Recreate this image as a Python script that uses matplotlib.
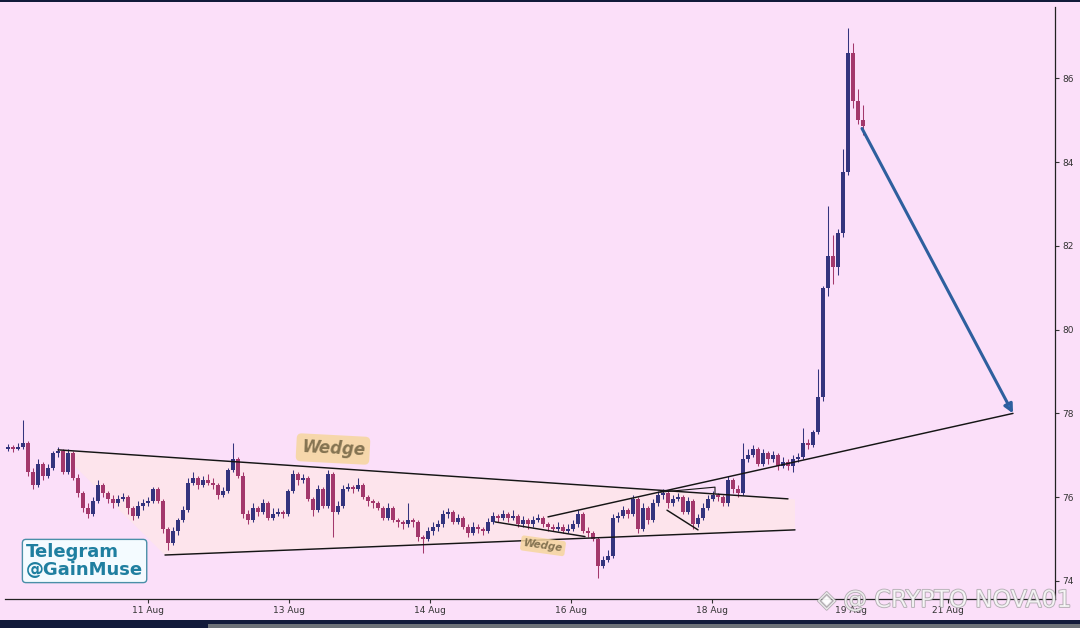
import matplotlib
matplotlib.use("Agg")
import matplotlib.pyplot as plt
import matplotlib.patheffects as pe
from matplotlib.patches import Polygon, Rectangle
import numpy as np

# ---------------- data ----------------
closes = [77.2, 77.15, 77.2, 77.3, 76.6, 76.3, 76.8, 76.5, 76.7, 77.05,
          77.1, 76.6, 77.05, 76.45, 76.1, 75.75, 75.6, 75.9, 76.3, 76.1,
          75.95, 75.85, 75.95, 76.0, 75.75, 75.55, 75.8, 75.85, 75.9, 76.2,
          75.9, 75.25, 74.9, 75.2, 75.45, 75.7, 76.35, 76.45, 76.3, 76.4,
          76.35, 76.3, 76.05, 76.15, 76.65, 76.9, 76.5, 75.6, 75.45, 75.75,
          75.65, 75.85, 75.5, 75.6, 75.65, 75.6, 76.15, 76.55, 76.4, 76.45,
          75.95, 75.7, 76.2, 75.8, 76.55, 75.65, 75.8, 76.2, 76.25, 76.2,
          76.3, 76.0, 75.9, 75.85, 75.75, 75.5, 75.75, 75.45, 75.4, 75.35,
          75.45, 75.4, 75.05, 75.0, 75.2, 75.3, 75.35, 75.6, 75.65, 75.4,
          75.5, 75.3, 75.15, 75.3, 75.25, 75.2, 75.4, 75.55, 75.5, 75.6,
          75.5, 75.55, 75.35, 75.45, 75.35, 75.45, 75.5, 75.35, 75.3, 75.25,
          75.3, 75.2, 75.25, 75.35, 75.6, 75.2, 75.15, 75.0, 74.35, 74.5,
          74.6, 75.5, 75.55, 75.7, 75.6, 75.95, 75.25, 75.75, 75.45, 75.85,
          76.05, 76.1, 75.85, 75.95, 76.0, 75.65, 75.9, 75.35, 75.5, 75.75,
          75.95, 76.05, 76.0, 75.85, 76.4, 76.2, 76.1, 76.9, 77.0, 77.15,
          76.8, 77.05, 76.9, 77.0, 76.75, 76.85, 76.75, 76.9, 76.95, 77.3,
          77.25, 77.55, 78.4, 81.0, 81.75, 81.5, 82.3, 83.75, 86.6, 85.45,
          85.0, 84.85]
opens = [77.15] + closes[:-1]
highs = [77.28, 77.25, 77.3, 77.85, 77.35, 76.7, 76.9, 76.85, 76.8, 77.1,
         77.2, 77.15, 77.15, 77.1, 76.55, 76.15, 75.85, 76.0, 76.4, 76.35,
         76.15, 76.05, 76.05, 76.1, 76.05, 75.8, 75.9, 75.95, 76.0, 76.25,
         76.25, 75.95, 75.3, 75.3, 75.5, 75.8, 76.45, 76.6, 76.5, 76.5,
         76.55, 76.45, 76.35, 76.25, 76.7, 77.3, 76.95, 76.6, 75.7, 75.85,
         75.8, 75.95, 75.9, 75.75, 75.75, 75.7, 76.2, 76.65, 76.6, 76.55,
         76.5, 76.0, 76.3, 76.25, 76.65, 76.6, 75.9, 76.3, 76.35, 76.3,
         76.45, 76.35, 76.05, 75.95, 75.9, 75.8, 75.85, 75.8, 75.5, 75.45,
         75.85, 75.5, 75.45, 75.1, 75.3, 75.4, 75.45, 75.7, 75.75, 75.7,
         75.6, 75.55, 75.35, 75.4, 75.35, 75.3, 75.5, 75.65, 75.6, 75.7,
         75.65, 75.7, 75.6, 75.55, 75.5, 75.55, 75.6, 75.55, 75.4, 75.35,
         75.4, 75.35, 75.35, 75.45, 75.7, 75.65, 75.3, 75.2, 75.05, 74.6,
         74.75, 75.6, 75.65, 75.8, 75.75, 76.05, 76.0, 75.85, 75.8, 75.95,
         76.15, 76.2, 76.15, 76.05, 76.1, 76.05, 76.0, 75.95, 75.6, 75.85,
         76.05, 76.15, 76.1, 76.05, 76.5, 76.45, 76.3, 77.3, 77.15, 77.25,
         77.2, 77.15, 77.1, 77.1, 77.05, 76.95, 76.9, 77.0, 77.05, 77.65,
         77.4, 77.6, 79.05, 81.05, 82.95, 82.25, 82.4, 84.3, 87.2, 86.85,
         85.75, 85.35]
lows = [77.1, 77.08, 77.12, 77.15, 76.5, 76.2, 76.25, 76.4, 76.45, 76.65,
        76.95, 76.55, 76.55, 76.4, 76.0, 75.65, 75.5, 75.55, 75.85, 76.0,
        75.85, 75.75, 75.8, 75.9, 75.6, 75.45, 75.5, 75.7, 75.8, 75.85,
        75.85, 75.15, 74.75, 74.85, 75.1, 75.4, 75.65, 76.3, 76.2, 76.25,
        76.3, 76.2, 75.95, 76.0, 76.1, 76.6, 76.45, 75.5, 75.35, 75.4,
        75.55, 75.6, 75.45, 75.45, 75.55, 75.5, 75.55, 76.1, 76.3, 76.35,
        75.9, 75.55, 75.65, 75.75, 75.75, 75.05, 75.6, 75.75, 76.15, 76.1,
        76.15, 75.95, 75.8, 75.75, 75.7, 75.45, 75.45, 75.4, 75.3, 75.25,
        75.3, 75.3, 74.95, 74.67, 74.95, 75.1, 75.2, 75.3, 75.5, 75.35,
        75.35, 75.25, 75.05, 75.1, 75.15, 75.1, 75.15, 75.35, 75.4, 75.45,
        75.4, 75.45, 75.3, 75.3, 75.25, 75.3, 75.4, 75.3, 75.2, 75.2,
        75.2, 75.15, 75.15, 75.2, 75.3, 75.15, 75.05, 74.95, 74.07, 74.3,
        74.45, 74.55, 75.4, 75.5, 75.5, 75.55, 75.15, 75.2, 75.35, 75.4,
        75.8, 75.95, 75.75, 75.8, 75.9, 75.6, 75.6, 75.25, 75.3, 75.45,
        75.7, 75.9, 75.9, 75.8, 75.8, 76.1, 76.0, 76.05, 76.85, 76.95,
        76.75, 76.75, 76.8, 76.85, 76.65, 76.7, 76.65, 76.6, 76.85, 76.9,
        77.15, 77.2, 77.5, 78.3, 80.8, 81.1, 81.3, 82.2, 83.7, 85.3,
        84.9, 84.65]

x_tick_pos = [28, 56.2, 84.4, 112.6, 140.8, 168.6, 188]
x_tick_labels = ["11 Aug", "13 Aug", "14 Aug", "16 Aug", "18 Aug", "19 Aug", "21 Aug"]
y_ticks = [74, 76, 78, 80, 82, 84, 86]

# trend lines (x in candle index, y in price)
wedge_upper = [(10, 77.13), (156, 75.96)]
wedge_lower = [(31.4, 74.62), (157.4, 75.22)]
rising_line = [(108, 75.53), (201, 78.0)]
small_wedge_a = [(97.4, 75.41), (115.4, 75.06)]
small_wedge_b = [(131.8, 75.69), (138, 75.22)]
small_wedge_c = [(130.4, 76.12), (141.4, 76.24), (141.4, 76.1)]
arrow_pts = [(170.8, 84.8), (201, 78.0)]
wedge_fill = [(10, 77.13), (157.4, 75.95), (157.4, 75.22), (31.4, 74.62)]

# ---------------- style ----------------
BG = "#fbdff9"
UP = "#34347e"
DOWN = "#a3386c"

fig = plt.figure(figsize=(10.8, 6.28), dpi=100, facecolor=BG)
ax = fig.add_axes([5 / 1080, 29 / 628, 1050 / 1080, 592 / 628])
ax.set_facecolor(BG)

x = np.arange(len(closes))
o = np.array(opens)
c = np.array(closes)
h = np.array(highs)
l = np.array(lows)
up = c >= o
cols = np.where(up, UP, DOWN)

# wedge fill
ax.add_patch(Polygon(wedge_fill, closed=True, facecolor="#fde4ec", edgecolor="none", zorder=1))

ax.vlines(x, l, h, colors=cols, linewidth=0.75, zorder=3)
body_bottom = np.minimum(o, c)
body_h = np.maximum(np.abs(c - o), 0.04)
ax.bar(x, body_h, bottom=body_bottom, width=0.68, color=cols, linewidth=0, zorder=4)

def line(pts, lw=1.05, color="#151515"):
    xs, ys = zip(*pts)
    ax.plot(xs, ys, color=color, linewidth=lw, zorder=5, solid_capstyle="round")

line(wedge_upper)
line(wedge_lower)
line(rising_line)
line(small_wedge_a)
line(small_wedge_b)
line(small_wedge_c, lw=0.8)

ax.annotate("", xy=arrow_pts[1], xytext=arrow_pts[0],
            arrowprops=dict(arrowstyle="-|>", color="#2e5f9e", lw=2.2,
                            mutation_scale=13, shrinkA=0, shrinkB=0,
                            fc="#2f6fc0"), zorder=6)

# labels
ax.text(65, 77.15, "Wedge", fontsize=12, fontweight="bold", fontstyle="italic",
        color="#857452", rotation=-3, ha="center", va="center", zorder=7,
        bbox=dict(boxstyle="round,pad=0.3", fc="#f6d69e", ec="none", alpha=0.85))
ax.text(107, 74.84, "Wedge", fontsize=7.5, fontweight="bold", fontstyle="italic",
        color="#857452", rotation=-8, ha="center", va="center", zorder=7,
        bbox=dict(boxstyle="round,pad=0.25", fc="#f6d69e", ec="none", alpha=0.85))

fig.text(26 / 1080, 1 - 561 / 628, "Telegram\n@GainMuse", fontsize=13, fontweight="bold",
         color="#1f7fa0", ha="left", va="center", multialignment="left", linespacing=1.0,
         bbox=dict(boxstyle="round,pad=0.2", fc="#f4fbff", ec="#4a8fa8", lw=1.0))

# axes formatting
ax.set_xlim(-0.6, 209.4)
ax.set_ylim(73.57, 87.7)
for s in ["top", "left"]:
    ax.spines[s].set_visible(False)
for s in ["bottom", "right"]:
    ax.spines[s].set_color("#222222")
    ax.spines[s].set_linewidth(0.9)
ax.yaxis.tick_right()
ax.set_yticks(y_ticks)
ax.set_yticklabels([str(v) for v in y_ticks])
ax.set_xticks(x_tick_pos)
ax.set_xticklabels(x_tick_labels)
ax.tick_params(axis="both", labelsize=6.5, colors="#333333", length=3, width=0.8, pad=2)

# screen chrome (dark bands)
fig.patches.append(Rectangle((0, 0), 1, 8 / 628, transform=fig.transFigure,
                             facecolor="#111a3a", edgecolor="none", zorder=10))
fig.patches.append(Rectangle((208 / 1080, 0), 1, 4 / 628, transform=fig.transFigure,
                             facecolor="#6c7177", edgecolor="none", zorder=11))
fig.patches.append(Rectangle((0, 1 - 2 / 628), 1, 2 / 628, transform=fig.transFigure,
                             facecolor="#111a3a", edgecolor="none", zorder=10))

# watermark
fig.text(1072 / 1080, 1 - 600 / 628, "◈ @ CRYPTO NOVA01", fontsize=17, color="white",
         alpha=0.75, ha="right", va="center", zorder=12,
         path_effects=[pe.withStroke(linewidth=1.2, foreground="#9a9a9a")])

fig.savefig("out.png", dpi=100, facecolor=BG)
